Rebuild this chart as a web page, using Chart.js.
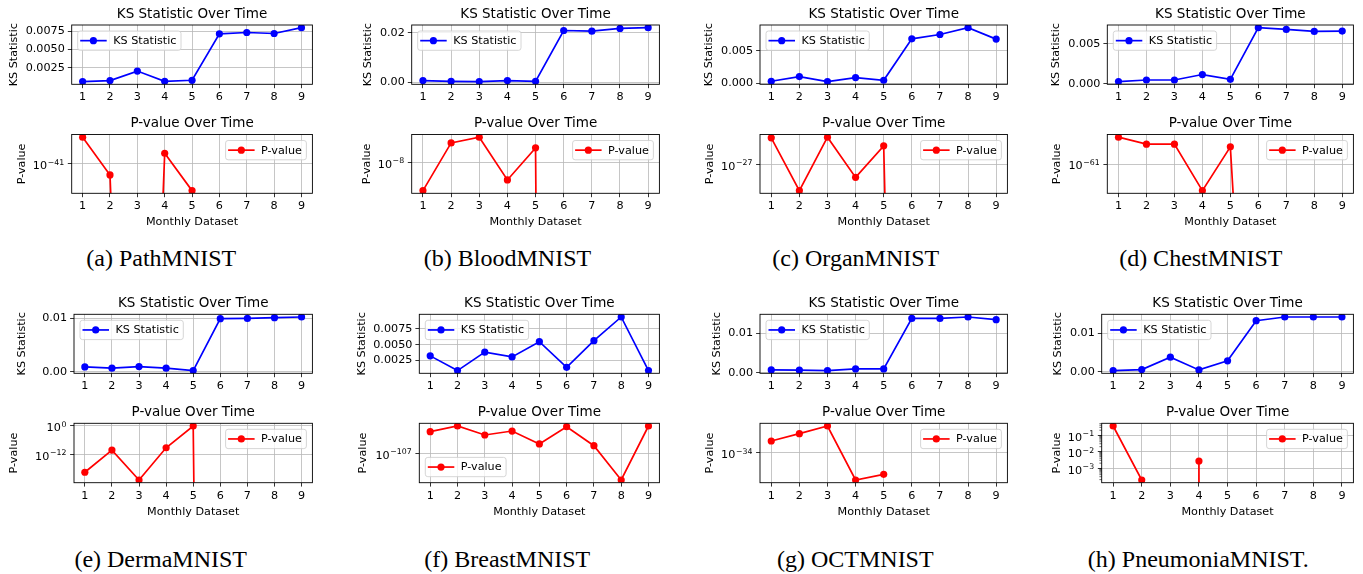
<!DOCTYPE html>
<html>
<head>
<meta charset="utf-8">
<script src="https://cdn.jsdelivr.net/npm/chart.js@4.4.1/dist/chart.umd.min.js"></script>
<style>
body{margin:0;background:#fff;width:1363px;height:574px;position:relative;overflow:hidden}
canvas{position:absolute}
.cap{position:absolute;font-family:"Liberation Serif","Times New Roman",serif;font-size:24px;color:#000;white-space:nowrap;transform:translate(-50%,-50%)}
</style>
</head>
<body>
<script>
// ---------------- data ----------------
var months = [1, 2, 3, 4, 5, 6, 7, 8, 9];

var ksPathMNIST   = [0.00065, 0.00079, 0.00208, 0.00069, 0.00083, 0.00714, 0.00732, 0.00718, 0.00797];
var ksBloodMNIST  = [0.00058, 0.00029, 0.00017, 0.00058, 0.00029, 0.02095, 0.0207, 0.0218, 0.0221];
var ksOrganMNIST  = [0.00027, 0.00101, 0.00022, 0.00085, 0.00043, 0.00689, 0.00757, 0.00863, 0.00685];
var ksChestMNIST  = [0.00026, 0.00046, 0.00046, 0.00115, 0.00055, 0.00705, 0.00683, 0.00658, 0.00662];
var ksDermaMNIST  = [0.00088, 0.00064, 0.00094, 0.00064, 0.00019, 0.00987, 0.00993, 0.01006, 0.01019];
var ksBreastMNIST = [0.00323, 0.00091, 0.00382, 0.00307, 0.00546, 0.00143, 0.00562, 0.00935, 0.00091];
var ksOCTMNIST    = [0.00069, 0.00061, 0.00051, 0.00094, 0.00094, 0.0137, 0.0137, 0.01406, 0.01338];
var ksPneumoniaMNIST = [0.00026, 0.00052, 0.00375, 0.00044, 0.00279, 0.0132, 0.01417, 0.01417, 0.01417];

// p-values (0 = underflow, drawn off the bottom of the log axis; null = missing)
var pPathMNIST   = [8e-5, 6.3e-57, 0, 5e-27, 1.3e-78, 0, 0, 0, 0];
var pBloodMNIST  = [2.1e-16, 2.1e-3, 7.6e-2, 1.7e-13, 9.3e-5, 0, 0, 0, 0];
var pOrganMNIST  = [3.3e-5, 5e-50, 1.26e-4, 9.1e-39, 5.4e-12, 0, 0, 0, 0];
var pChestMNIST  = [4e-6, 1.6e-20, 1.6e-20, 1.3e-116, 4e-26, 0, 0, 0, 0];
var pDermaMNIST  = [2.5e-20, 6e-11, 1.3e-23, 6e-10, 0.98, 0, 0, 0, 0];
var pBreastMNIST = [5e-32, 4e-12, 1.3e-43, 1e-29, 5e-75, 1.6e-14, 4e-81, 3e-201, 4e-12];
var pOCTMNIST    = [1e-21, 1.4e-13, 5e-5, 4.4e-65, 9e-59, null, null, null, null];
var pPneumoniaMNIST = [0.36, 1.9e-4, 0, 2.7e-3, 0, 0, 0, 0, 0];

// y tick labels
var ksTicksPathMNIST   = [0.0025, 0.0050, 0.0075];
var ksTicksBloodMNIST  = [0.00, 0.02];
var ksTicksOrganMNIST  = [0.000, 0.005];
var ksTicksChestMNIST  = [0.000, 0.005];
var ksTicksDermaMNIST  = [0.00, 0.01];
var ksTicksBreastMNIST = [0.0025, 0.0050, 0.0075];
var ksTicksOCTMNIST    = [0.00, 0.01];
var ksTicksPneumoniaMNIST = [0.00, 0.01];

// log ticks, as powers of ten
var pTicksPathMNIST   = [-41];
var pTicksBloodMNIST  = [-8];
var pTicksOrganMNIST  = [-27];
var pTicksChestMNIST  = [-61];
var pTicksDermaMNIST  = [0, -12];
var pTicksBreastMNIST = [-107];
var pTicksOCTMNIST    = [-34];
var pTicksPneumoniaMNIST = [-1, -2, -3];

// ---------------- layout ----------------
var FONT = '"DejaVu Sans", sans-serif';
var rows = [
	{ksTitle: 14,    ksTop: 25,    ksBot: 84.3,  pTitle: 123.3, pTop: 134.5, pBot: 193.3, xTitle: 221.7, cap: 258},
	{ksTitle: 303.3, ksTop: 314.3, ksBot: 373.3, pTitle: 412.7, pTop: 423.3, pBot: 482.7, xTitle: 511.7, cap: 559}
];

var panels = [
	{cap: '(a) PathMNIST',   row: 0, left: 71.7,   right: 313.3,  ksYT: 14,     pYT: 21.7,   capX: 161.3,  ks: ksPathMNIST,   ksTicks: ksTicksPathMNIST,   dec: 4, p: pPathMNIST,   pTicks: pTicksPathMNIST,   pLoc: 'ur'},
	{cap: '(b) BloodMNIST',  row: 0, left: 411.7,  right: 660.7,  ksYT: 368.3,  pYT: 366.7,  capX: 507.5,  ks: ksBloodMNIST,  ksTicks: ksTicksBloodMNIST,  dec: 2, p: pBloodMNIST,  pTicks: pTicksBloodMNIST,  pLoc: 'ur'},
	{cap: '(c) OrganMNIST',  row: 0, left: 760,    right: 1008.3, ksYT: 709.3,  pYT: 710,    capX: 855.8,  ks: ksOrganMNIST,  ksTicks: ksTicksOrganMNIST,  dec: 3, p: pOrganMNIST,  pTicks: pTicksOrganMNIST,  pLoc: 'ur'},
	{cap: '(d) ChestMNIST',  row: 0, left: 1107.3, right: 1354.3, ksYT: 1056,   pYT: 1056.7, capX: 1200.8, ks: ksChestMNIST,  ksTicks: ksTicksChestMNIST,  dec: 3, p: pChestMNIST,  pTicks: pTicksChestMNIST,  pLoc: 'ur'},
	{cap: '(e) DermaMNIST',  row: 1, left: 74,     right: 313.3,  ksYT: 21.7,   pYT: 14,     capX: 160.7,  ks: ksDermaMNIST,  ksTicks: ksTicksDermaMNIST,  dec: 2, p: pDermaMNIST,  pTicks: pTicksDermaMNIST,  pLoc: 'ur'},
	{cap: '(f) BreastMNIST', row: 1, left: 419.3,  right: 660.7,  ksYT: 361.7,  pYT: 362.7,  capX: 507.3,  ks: ksBreastMNIST, ksTicks: ksTicksBreastMNIST, dec: 4, p: pBreastMNIST, pTicks: pTicksBreastMNIST, pLoc: 'll'},
	{cap: '(g) OCTMNIST',    row: 1, left: 760,    right: 1008.3, ksYT: 716.7,  pYT: 710,    capX: 855.3,  ks: ksOCTMNIST,    ksTicks: ksTicksOCTMNIST,    dec: 2, p: pOCTMNIST,    pTicks: pTicksOCTMNIST,    pLoc: 'ur'},
	{cap: '(h) PneumoniaMNIST.', row: 1, left: 1101.7, right: 1354.3, ksYT: 1058.3, pYT: 1056.7, capX: 1198.3, ks: ksPneumoniaMNIST, ksTicks: ksTicksPneumoniaMNIST, dec: 2, p: pPneumoniaMNIST, pTicks: pTicksPneumoniaMNIST, pLoc: 'ur', minor: true}
];

// ---------------- helpers ----------------
// same trick matplotlib uses for non-positive values on a log axis
function toLog(v) { return v === null ? null : (v > 0 ? Math.log10(v) : -1000); }

function padRange(vals)
{
	var ok = vals.filter(function(v){ return v !== null && v > -999; });
	var lo = Math.min.apply(null, ok), hi = Math.max.apply(null, ok), m = (hi - lo) * 0.05;
	return [lo - m, hi + m];
}

// axes title, frame, 10^n tick labels, minor log ticks and a matplotlib-style legend
var mplFrame = {
	id: 'mplFrame',
	afterDraw: function(chart, args, opts)
	{
		var ctx = chart.ctx, a = chart.chartArea, ys = chart.scales.y;
		ctx.save();

		ctx.fillStyle = '#000'; ctx.textAlign = 'center'; ctx.textBaseline = 'middle';
		ctx.font = '13.5px ' + FONT;
		ctx.fillText(opts.title, (a.left + a.right) / 2, opts.titleY);

		if (opts.expTicks)
		{
			ys.ticks.forEach(function(t)
			{
				var py = ys.getPixelForValue(t.value);
				var ex = String(t.value).replace('-', '\u2212');
				ctx.font = '7.8px ' + FONT;
				var ew = ctx.measureText(ex).width;
				var xr = a.left - 7.6;
				ctx.textAlign = 'left'; ctx.textBaseline = 'alphabetic';
				ctx.fillText(ex, xr - ew, py + 0.9);
				ctx.font = '11.2px ' + FONT;
				ctx.textAlign = 'right';
				ctx.fillText('10', xr - ew - 0.6, py + 5.4);
			});
		}

		if (opts.minorLog)
		{
			ctx.strokeStyle = '#000'; ctx.lineWidth = 0.6;
			for (var n = Math.floor(ys.min); n <= Math.ceil(ys.max); n++)
				for (var k = 2; k < 10; k++)
				{
					var v = n + Math.log10(k);
					if (v < ys.min || v > ys.max) continue;
					var py = ys.getPixelForValue(v);
					ctx.beginPath(); ctx.moveTo(a.left - 2.3, py); ctx.lineTo(a.left, py); ctx.stroke();
				}
		}
		ctx.strokeStyle = '#000'; ctx.lineWidth = 0.9;
		ctx.strokeRect(a.left, a.top, a.right - a.left, a.bottom - a.top);

		ctx.font = '11.2px ' + FONT;
		var tw = ctx.measureText(opts.label).width;
		var bw = 35.5 + tw + 4.5, bh = 19.3, inset = 6;
		var bx = opts.loc[1] === 'r' ? a.right - inset - bw : a.left + inset;
		var by = opts.loc[0] === 'u' ? a.top + inset : a.bottom - inset - bh;
		ctx.beginPath();
		if (ctx.roundRect) ctx.roundRect(bx, by, bw, bh, 2.5); else ctx.rect(bx, by, bw, bh);
		ctx.fillStyle = 'rgba(255,255,255,0.8)'; ctx.fill();
		ctx.strokeStyle = '#cccccc'; ctx.lineWidth = 0.8; ctx.stroke();
		var cy = by + bh / 2;
		ctx.strokeStyle = opts.color; ctx.lineWidth = 1.7;
		ctx.beginPath(); ctx.moveTo(bx + 2.5, cy); ctx.lineTo(bx + 29, cy); ctx.stroke();
		ctx.fillStyle = opts.color;
		ctx.beginPath(); ctx.arc(bx + 15.7, cy, 3.6, 0, Math.PI * 2); ctx.fill();
		ctx.fillStyle = '#000'; ctx.textBaseline = 'middle'; ctx.textAlign = 'left';
		ctx.fillText(opts.label, bx + 35.5, cy + 0.5);
		ctx.restore();
	}
};

function drawChart(box, yVals, yTicks, tickFmt, o)
{
	var cl = Math.floor(box.yTitleX - 6.72), ct = Math.floor(box.titleY - 9);
	var cb = box.xTitleY ? box.xTitleY + 8 : box.bottom + 22;
	var cw = Math.ceil(box.right + 2 - cl), ch = Math.ceil(cb - ct);
	var cv = document.createElement('canvas');
	cv.width = cw; cv.height = ch;
	cv.style.left = cl + 'px'; cv.style.top = ct + 'px';
	document.body.appendChild(cv);
	var lim = padRange(yVals);
	var tickFont = {family: FONT, size: 11.2};

	new Chart(cv, {
		type: 'line',
		data: {
			datasets: [{
				data: months.map(function(m, i){ return {x: m, y: yVals[i]}; }),
				borderColor: o.color, backgroundColor: o.color,
				borderWidth: 1.7, pointRadius: 3.6, pointHoverRadius: 3.6, pointBorderWidth: 0,
				tension: 0, spanGaps: false
			}]
		},
		options: {
			responsive: false, animation: false, events: [],
			layout: {padding: {left: 0, top: box.top - ct, bottom: 0, right: cw - (box.right - cl)}},
			plugins: {
				legend: {display: false}, tooltip: {enabled: false}, title: {display: false},
				mplFrame: {title: o.title, titleY: box.titleY - ct, label: o.label, color: o.color, loc: o.loc,
					minorLog: !!o.minor, expTicks: !!o.exp}
			},
			scales: {
				x: {
					type: 'linear', min: 0.6, max: 9.4,
					afterBuildTicks: function(s){ s.ticks = months.map(function(v){ return {value: v}; }); },
					afterFit: function(s){ s.height = ch - (box.bottom - ct); },
					ticks: {color: '#000', font: tickFont, padding: 2.4, autoSkip: false, maxRotation: 0},
					grid: {color: '#b8b8b8', lineWidth: 0.8, tickColor: '#000', tickLength: 3.9},
					border: {display: false},
					title: box.xTitleY ? {display: true, text: 'Monthly Dataset', color: '#000', font: tickFont,
						padding: {top: 0, bottom: ch - (box.xTitleY - ct) - 6.72}} : {display: false}
				},
				y: {
					type: 'linear', min: lim[0], max: lim[1],
					afterBuildTicks: function(s){ s.ticks = yTicks.map(function(v){ return {value: v}; }); },
					afterFit: function(s){ s.width = box.left - cl; },
					ticks: {color: '#000', font: tickFont, padding: 3, autoSkip: false, callback: tickFmt},
					grid: {color: '#b8b8b8', lineWidth: 0.8, tickColor: '#000', tickLength: 3.9},
					border: {display: false},
					title: {display: true, text: o.yTitle, color: '#000', font: tickFont,
						padding: {top: box.yTitleX - cl - 6.72, bottom: 0}}
				}
			}
		},
		plugins: [mplFrame]
	});
}

// ---------------- build the 16 charts ----------------
panels.forEach(function(pn)
{
	var r = rows[pn.row];
	drawChart(
		{left: pn.left, right: pn.right, top: r.ksTop, bottom: r.ksBot, titleY: r.ksTitle, yTitleX: pn.ksYT},
		pn.ks, pn.ksTicks,
		function(v){ return v.toFixed(pn.dec); },
		{title: 'KS Statistic Over Time', yTitle: 'KS Statistic', label: 'KS Statistic', color: '#0000ff', loc: 'ul'}
	);
	// log axis: labels 10^n are drawn by the mplFrame plugin
	drawChart(
		{left: pn.left, right: pn.right, top: r.pTop, bottom: r.pBot, titleY: r.pTitle, yTitleX: pn.pYT, xTitleY: r.xTitle},
		pn.p.map(toLog), pn.pTicks,
		function(){ return ''; },
		{title: 'P-value Over Time', yTitle: 'P-value', label: 'P-value', color: '#ff0000', loc: pn.pLoc, minor: pn.minor, exp: true}
	);
	var c = document.createElement('div');
	c.className = 'cap';
	c.textContent = pn.cap;
	c.style.left = pn.capX + 'px';
	c.style.top = r.cap + 'px';
	document.body.appendChild(c);
});
</script>
</body>
</html>
